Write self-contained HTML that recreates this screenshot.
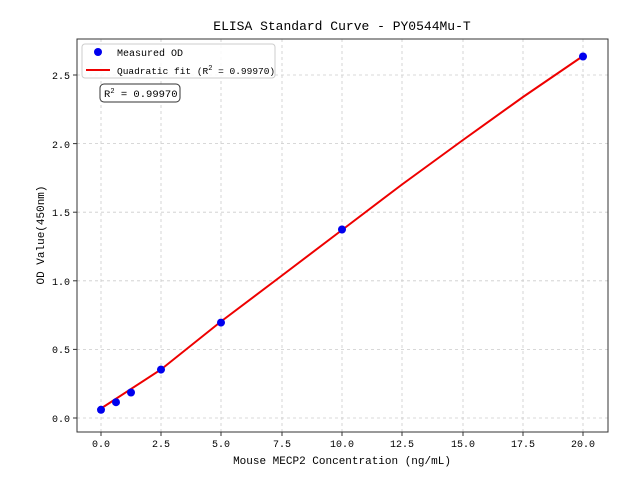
<html><body style="margin:0;background:#fff">
<svg width="640" height="480" xmlns="http://www.w3.org/2000/svg" font-family="'Liberation Mono','WenQuanYi Zen Hei',monospace" font-size="10">
<g stroke="#ccc" stroke-dasharray="3,3" stroke-width="0.8">
<line x1="101" y1="39" x2="101" y2="432"/><line x1="161" y1="39" x2="161" y2="432"/><line x1="221" y1="39" x2="221" y2="432"/><line x1="282" y1="39" x2="282" y2="432"/><line x1="342" y1="39" x2="342" y2="432"/><line x1="402" y1="39" x2="402" y2="432"/><line x1="463" y1="39" x2="463" y2="432"/><line x1="523" y1="39" x2="523" y2="432"/><line x1="583" y1="39" x2="583" y2="432"/>
<line x1="77" y1="418" x2="608" y2="418"/><line x1="77" y1="349.4" x2="608" y2="349.4"/><line x1="77" y1="280.8" x2="608" y2="280.8"/><line x1="77" y1="212.2" x2="608" y2="212.2"/><line x1="77" y1="143.6" x2="608" y2="143.6"/><line x1="77" y1="75" x2="608" y2="75"/>
</g>
<rect x="77" y="39" width="531" height="393" fill="none" stroke="#333" stroke-width="1"/>
<g stroke="#333"><line x1="101" y1="432" x2="101" y2="436"/><line x1="161" y1="432" x2="161" y2="436"/><line x1="221" y1="432" x2="221" y2="436"/><line x1="282" y1="432" x2="282" y2="436"/><line x1="342" y1="432" x2="342" y2="436"/><line x1="402" y1="432" x2="402" y2="436"/><line x1="463" y1="432" x2="463" y2="436"/><line x1="523" y1="432" x2="523" y2="436"/><line x1="583" y1="432" x2="583" y2="436"/>
<line x1="73" y1="418" x2="77" y2="418"/><line x1="73" y1="349.4" x2="77" y2="349.4"/><line x1="73" y1="280.8" x2="77" y2="280.8"/><line x1="73" y1="212.2" x2="77" y2="212.2"/><line x1="73" y1="143.6" x2="77" y2="143.6"/><line x1="73" y1="75" x2="77" y2="75"/></g>
<g text-anchor="middle"><text x="101" y="447">0.0</text><text x="161" y="447">2.5</text><text x="221" y="447">5.0</text><text x="282" y="447">7.5</text><text x="342" y="447">10.0</text><text x="402" y="447">12.5</text><text x="463" y="447">15.0</text><text x="523" y="447">17.5</text><text x="583" y="447">20.0</text></g>
<g text-anchor="end"><text x="70" y="422">0.0</text><text x="70" y="353">0.5</text><text x="70" y="285">1.0</text><text x="70" y="216">1.5</text><text x="70" y="148">2.0</text><text x="70" y="79">2.5</text></g>
<text x="342" y="464" text-anchor="middle" font-size="11">Mouse MECP2 Concentration (ng/mL)</text>
<text transform="translate(44,235) rotate(-90)" text-anchor="middle" font-size="11">OD Value(450nm)</text>
<text x="342" y="30" text-anchor="middle" font-size="13">ELISA Standard Curve - PY0544Mu-T</text>
<polyline fill="none" stroke="#e00" stroke-width="2" points="101,408.5 161,369.5 221,321.5 282,275.5 342,230 402,184.5 463,140 523,97 583,56"/>
<g fill="#0000ee"><circle cx="101" cy="409.8" r="4"/><circle cx="116" cy="402.2" r="4"/><circle cx="131" cy="392.5" r="4"/><circle cx="161" cy="369.6" r="4"/><circle cx="221" cy="322.6" r="4"/><circle cx="342" cy="229.5" r="4"/><circle cx="583" cy="56.5" r="4"/></g>
<rect x="82" y="44" width="193" height="34" rx="3" fill="#fff" fill-opacity="0.85" stroke="#ccc"/>
<circle cx="98" cy="52" r="4" fill="#0000ee"/><text x="117" y="56">Measured OD</text>
<line x1="86" y1="70" x2="110" y2="70" stroke="#e00" stroke-width="2"/><text x="117" y="74" font-size="9.5">Quadratic fit (R<tspan dy="-4" font-size="7">2</tspan><tspan dy="4"> = 0.99970)</tspan></text>
<rect x="100" y="84" width="80" height="18" rx="4" fill="#fff" stroke="#333"/>
<text x="104" y="97" font-size="10.5">R<tspan dy="-4" font-size="7">2</tspan><tspan dy="4"> = 0.99970</tspan></text>
</svg></body></html>
